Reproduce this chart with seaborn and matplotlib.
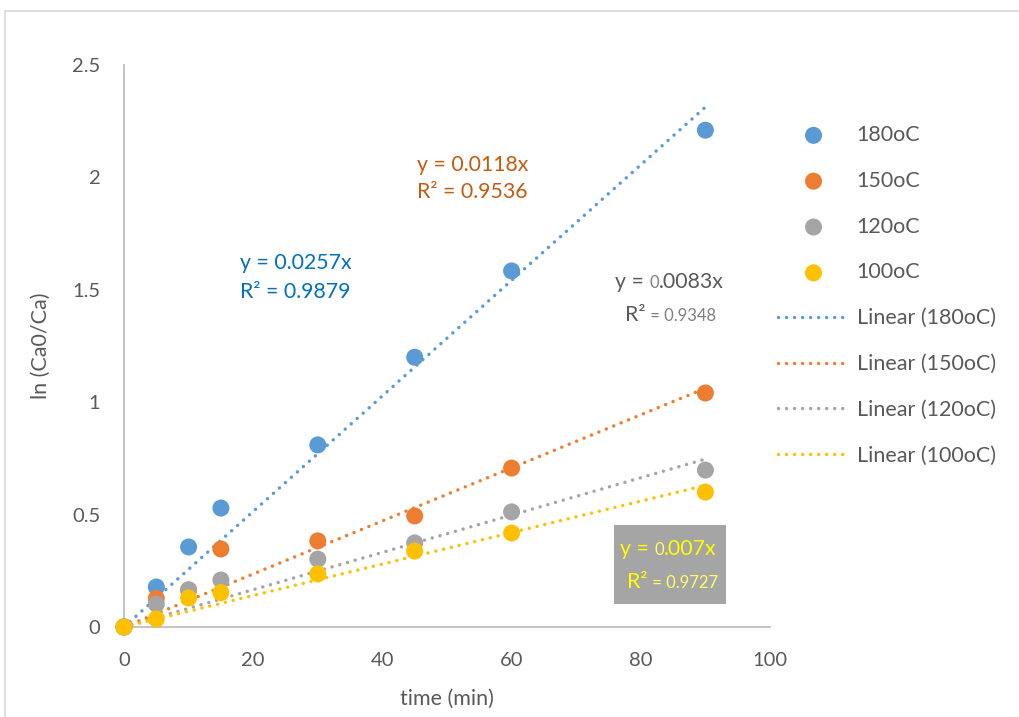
import matplotlib
matplotlib.use("Agg")
import matplotlib.pyplot as plt
import seaborn as sns
import pandas as pd
import numpy as np
from matplotlib.patches import Rectangle

# ---------------- data ----------------
time_min = [0, 5, 10, 15, 30, 45, 60, 90]
series_names = ["180oC", "150oC", "120oC", "100oC"]
v180 = [0, 0.178, 0.356, 0.529, 0.810, 1.200, 1.584, 2.210]
v150 = [0, 0.127, 0.165, 0.347, 0.383, 0.494, 0.707, 1.041]
v120 = [0, 0.102, 0.165, 0.209, 0.302, 0.374, 0.512, 0.698]
v100 = [0, 0.036, 0.129, 0.153, 0.236, 0.338, 0.418, 0.600]
slopes = [0.0257, 0.0118, 0.0083, 0.007]
r2 = [0.9879, 0.9536, 0.9348, 0.9727]
fit_x = [0, 90]
x_ticks = [0, 20, 40, 60, 80, 100]
y_ticks = [0, 0.5, 1, 1.5, 2, 2.5]

colors = ["#5B9BD5", "#ED7D31", "#A5A5A5", "#FFC000"]

sns.set_theme(style="white")
plt.rcParams["font.family"] = ["Lato", "DejaVu Sans"]

W, H = 1019, 717
fig = plt.figure(figsize=(W / 100, H / 100), dpi=100)
ax = fig.add_axes([124 / W, 1 - 627 / H, (770 - 124) / W, (627 - 65) / H])

vals = [v180, v150, v120, v100]
df = pd.DataFrame({
    "time": time_min * 4,
    "value": sum(vals, []),
    "series": sum([[n] * len(time_min) for n in series_names], []),
})

for name, c in zip(series_names, colors):
    sub = df[df["series"] == name]
    sns.scatterplot(data=sub, x="time", y="value", color=c, s=150,
                    edgecolor="none", ax=ax, label=name, zorder=3, legend=False)

fit_rows = []
for name, k in zip(series_names, slopes):
    for xv in fit_x:
        fit_rows.append({"time": xv, "value": k * xv, "series": "Linear (" + name + ")"})
fit_df = pd.DataFrame(fit_rows)
for name, c in zip(series_names, colors):
    lab = "Linear (" + name + ")"
    sns.lineplot(data=fit_df[fit_df["series"] == lab], x="time", y="value",
                 color=c, ax=ax, label=lab, linewidth=2.5, zorder=2,
                 linestyle=(0, (0.01, 2.3)), dash_capstyle="round", legend=False)

ax.set_xlim(0, 100)
ax.set_ylim(0, 2.5)
ax.set_xticks(x_ticks)
ax.set_yticks(y_ticks)
ax.set_xticklabels([str(v) for v in x_ticks])
ax.set_yticklabels([("%g" % v) for v in y_ticks])
ax.set_xlabel("time (min)", fontsize=15.5, color="#595959", labelpad=14)
ax.set_ylabel("ln (Ca0/Ca)", fontsize=15.5, color="#595959", labelpad=15)
ax.tick_params(axis="x", labelsize=14.5, colors="#BFBFBF", labelcolor="#595959",
               length=6, width=1, direction="out", pad=12)
ax.tick_params(axis="y", labelsize=14.5, colors="#BFBFBF", labelcolor="#595959",
               length=6, width=1, direction="out", pad=11)
for s in ["top", "right"]:
    ax.spines[s].set_visible(False)
for s in ["left", "bottom"]:
    ax.spines[s].set_color("#BFBFBF")
    ax.spines[s].set_linewidth(1.3)
for coll in ax.collections:
    coll.set_clip_on(False)

# legend
handles, labels = ax.get_legend_handles_labels()
order = series_names + ["Linear (" + n + ")" for n in series_names]
hmap = dict(zip(labels, handles))
leg = fig.legend([hmap[l] for l in order], order, loc="upper left",
                 bbox_to_anchor=(778 / W, 1 - 125 / H), frameon=False,
                 fontsize=15.5, labelspacing=1.2, handlelength=3.3,
                 handletextpad=0.35, borderaxespad=0, borderpad=0)
for t in leg.get_texts():
    t.set_color("#595959")

# outer chart frame
fig.patches.append(Rectangle((5 / W, -0.1), 1.2, 1.1 - 11 / H,
                             transform=fig.transFigure, fill=False,
                             edgecolor="#D9D9D9", linewidth=1.2))

# yellow label box
fig.patches.append(Rectangle((614 / W, 1 - 604 / H), (726 - 614) / W, (604 - 525) / H,
                             transform=fig.transFigure, facecolor="#A5A5A5",
                             edgecolor="none", zorder=5))

fig.canvas.draw()
renderer = fig.canvas.get_renderer()


def pieces(px, py, parts):
    x = px
    for txt, size, col in parts:
        t = fig.text(x / W, 1 - py / H, txt, fontsize=size, color=col,
                     ha="left", va="baseline", zorder=6)
        bb = t.get_window_extent(renderer=renderer)
        x += bb.width


fs = 15.3
sm = 12
pieces(240, 269, [("y = %.4fx" % slopes[0], fs, "#0070C0")])
pieces(240, 298, [("R² = %.4f" % r2[0], fs, "#0070C0")])
pieces(417, 171, [("y = %.4fx" % slopes[1], fs, "#C55A11")])
pieces(417, 198, [("R² = %.4f" % r2[1], fs, "#C55A11")])
pieces(615, 288, [("y = ", fs, "#595959"), ("0", sm, "#808080"),
                  (".0083x", fs, "#595959")])
pieces(625, 321, [("R²", fs, "#595959"), (" = %.4f" % r2[2], sm, "#808080")])
pieces(620, 555, [("y = ", fs, "#FFFF00"), ("0", sm, "#FFFF66"),
                  (".007x", fs, "#FFFF00")])
pieces(627, 588, [("R²", fs, "#FFFF00"), (" = %.4f" % r2[3], sm, "#FFFF66")])

fig.savefig("out.png", dpi=100)
